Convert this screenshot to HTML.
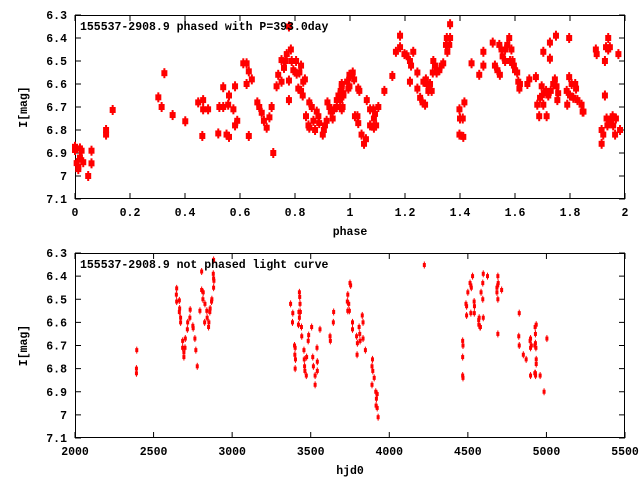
<!DOCTYPE html>
<html><head><meta charset="utf-8"><style>
body{margin:0;background:#fff}
svg text{font-family:"Liberation Mono",monospace;font-size:11.5px;font-weight:bold;fill:#000}
</style></head><body>
<svg id="c" width="640" height="480" xmlns="http://www.w3.org/2000/svg"></svg>
<script>
// Top chart: phased
const phasePhase=[0.0,0.0,0.006,0.012,0.012,0.018,0.018,0.024,0.03,0.048,0.06,0.06,0.113,0.113,0.137,0.303,0.315,0.325,0.355,0.401,0.448,0.463,0.466,0.466,0.484,0.521,0.525,0.539,0.539,0.551,0.557,0.56,0.56,0.576,0.582,0.59,0.582,0.612,0.624,0.624,0.632,0.632,0.643,0.663,0.67,0.679,0.687,0.697,0.707,0.715,0.721,0.733,0.739,0.751,0.751,0.76,0.766,0.77,0.778,0.778,0.778,
0.785,0.788,0.794,0.804,0.806,0.816,0.822,0.812,0.822,0.828,0.830,0.836,0.840,0.849,0.852,0.852,0.861,0.867,0.873,0.879,0.885,0.888,0.901,0.905,0.909,0.915,0.918,0.925,0.930,0.937,0.942,0.952,0.952,0.958,0.964,0.966,0.970,0.973,0.976,0.990,0.998,0.998,
0.970,0.970,0.976,0.970,0.990,0.994,1.0,1.010,1.015,1.030,1.034,1.018,1.027,1.030,1.042,1.051,1.058,1.061,1.073,1.073,1.085,1.087,1.091,1.087,1.095,1.103,1.125,1.154,1.167,1.182,1.182,1.198,1.206,1.218,1.222,1.218,1.230,1.245,1.245,1.255,1.264,1.273,1.267,1.276,1.279,1.285,1.291,1.297,1.301,1.303,1.309,1.315,1.325,1.333,1.339,1.349,1.352,1.354,1.361,1.364,1.364,1.398,1.398,1.400,1.410,1.412,1.416,1.442,1.470,1.485,1.485,1.519,1.527,1.536,1.545,1.543,1.551,1.555,1.564,1.564,1.572,1.579,1.582,1.587,1.591,1.596,1.600,1.608,1.612,1.616,1.618,1.645,1.652,1.676,1.681,1.688,1.691,1.697,1.703,1.705,1.703,1.713,1.715,1.721,1.727,1.727,1.730,1.739,1.745,1.749,1.751,1.754,1.757,1.788,1.790,1.797,1.797,1.800,1.806,1.812,1.819,1.822,1.827,1.842,1.846,1.849,1.894,1.897,1.915,1.915,1.921,1.927,1.927,1.931,1.939,1.939,1.945,1.933,1.936,1.945,1.955,1.957,1.964,1.967,1.976,1.982];
const phaseMag=[6.873,6.887,6.944,6.96,6.97,6.92,6.88,6.89,6.94,7.0,6.89,6.945,6.8,6.82,6.713,6.658,6.7,6.553,6.735,6.762,6.68,6.826,6.67,6.71,6.71,6.815,6.7,6.7,6.614,6.82,6.69,6.83,6.65,6.71,6.61,6.76,6.78,6.51,6.51,6.6,6.545,6.826,6.58,6.68,6.7,6.725,6.76,6.79,6.745,6.7,6.9,6.61,6.56,6.59,6.496,6.53,6.5,6.47,6.35,6.585,6.67,
6.45,6.5,6.54,6.5,6.555,6.55,6.52,6.62,6.63,6.65,6.59,6.58,6.74,6.78,6.79,6.68,6.7,6.76,6.8,6.72,6.74,6.77,6.82,6.80,6.78,6.76,6.68,6.7,6.72,6.75,6.71,6.7,6.67,6.65,6.67,6.63,6.6,6.7,6.64,6.59,6.56,6.61,
6.61,6.65,6.65,6.71,6.59,6.62,6.565,6.55,6.58,6.62,6.63,6.74,6.74,6.77,6.82,6.86,6.84,6.67,6.71,6.78,6.71,6.75,6.73,6.79,6.78,6.70,6.63,6.565,6.46,6.39,6.44,6.47,6.475,6.50,6.52,6.59,6.46,6.55,6.62,6.66,6.68,6.69,6.59,6.58,6.6,6.63,6.6,6.63,6.55,6.5,6.52,6.55,6.54,6.52,6.51,6.43,6.4,6.46,6.43,6.4,6.34,6.71,6.82,6.75,6.75,6.83,6.68,6.51,6.56,6.46,6.52,6.42,6.52,6.54,6.56,6.43,6.45,6.48,6.45,6.50,6.43,6.40,6.50,6.45,6.5,6.52,6.54,6.55,6.59,6.62,6.6,6.6,6.58,6.57,6.69,6.74,6.66,6.61,6.69,6.64,6.46,6.63,6.74,6.65,6.42,6.49,6.63,6.6,6.58,6.39,6.61,6.67,6.64,6.63,6.69,6.40,6.57,6.65,6.6,6.66,6.6,6.62,6.67,6.69,6.72,6.72,6.45,6.47,6.86,6.8,6.82,6.65,6.5,6.44,6.4,6.45,6.44,6.75,6.78,6.76,6.74,6.78,6.82,6.75,6.47,6.8];
// Bottom chart: unphased
const lcHjd=[2393,2391,2391,2647,2645,2647,2664,2666,2664,2672,2672,2685,2685,2693,2693,2700,2702,2715,2717,2731,2733,2750,2752,2763,2769,2778,2795,2806,2806,2816,2814,2827,2825,2839,2841,2850,2852,2858,2860,2869,2871,2880,2882,2882,2884,2882,3372,3386,3384,3397,3401,3399,3403,3401,3428,3430,3432,3425,3434,3428,3422,3441,3443,3457,3459,3461,3463,3472,3474,3484,3487,3506,3513,3517,3528,3528,3540,3542,3542,3559,3623,3625,3644,3646,3733,3736,3750,3754,3736,3742,3746,3766,3766,3792,3797,3795,3808,3812,3814,3828,3833,3833,3848,3893,3890,3895,3904,3890,3914,3918,3916,3923,3923,3929,4223,4467,4469,4467,4467,4469,4488,4492,4492,4500,4514,4519,4522,4530,4519,4540,4542,4541,4569,4572,4570,4577,4580,4584,4595,4598,4595,4598,4625,4685,4685,4690,4693,4691,4691,4691,4715,4827,4824,4827,4853,4871,4899,4896,4899,4904,4926,4930,4933,4928,4935,4930,4935,4935,4899,4926,4930,4931,4960,4985,5003];
const lcMag=[6.72,6.80,6.82,6.453,6.48,6.51,6.505,6.54,6.555,6.58,6.60,6.68,6.71,6.73,6.75,6.71,6.67,6.63,6.60,6.58,6.545,6.615,6.625,6.67,6.72,6.79,6.55,6.38,6.46,6.47,6.50,6.52,6.60,6.55,6.58,6.62,6.60,6.555,6.54,6.51,6.50,6.39,6.41,6.33,6.42,6.45,6.52,6.56,6.60,6.70,6.71,6.74,6.76,6.80,6.47,6.49,6.52,6.555,6.555,6.58,6.61,6.62,6.66,6.72,6.76,6.79,6.81,6.83,6.75,6.68,6.655,6.62,6.75,6.79,6.83,6.87,6.71,6.77,6.81,6.63,6.66,6.68,6.60,6.555,6.51,6.48,6.43,6.44,6.55,6.52,6.55,6.60,6.63,6.66,6.69,6.74,6.62,6.65,6.68,6.57,6.60,6.67,6.72,6.76,6.79,6.81,6.84,6.87,6.90,6.93,6.96,6.91,6.97,7.01,6.352,6.68,6.70,6.75,6.83,6.84,6.52,6.53,6.57,6.47,6.43,6.44,6.45,6.40,6.56,6.51,6.53,6.56,6.59,6.58,6.61,6.62,6.62,6.47,6.43,6.39,6.50,6.58,6.40,6.45,6.47,6.44,6.43,6.40,6.50,6.65,6.46,6.56,6.66,6.70,6.74,6.76,6.67,6.68,6.71,6.70,6.70,6.69,6.71,6.62,6.61,6.65,6.76,6.78,6.83,6.82,6.82,6.83,6.83,6.90,6.67];
const topXTicks=[0,0.2,0.4,0.6,0.8,1,1.2,1.4,1.6,1.8,2];
const botXTicks=[2000,2500,3000,3500,4000,4500,5000,5500];
const yTicks=[6.3,6.4,6.5,6.6,6.7,6.8,6.9,7,7.1];

const NS='http://www.w3.org/2000/svg';
const svg=document.getElementById('c');
function mk(tag,attrs,parent){const e=document.createElementNS(NS,tag);for(const k in attrs)e.setAttribute(k,attrs[k]);(parent||svg).appendChild(e);return e;}

function panel(cfg){
  const g=mk('g',{});
  
  
  const L=75,R=625,T=cfg.top,B=cfg.bottom;
  const sx=v=>L+(v-cfg.xmin)/(cfg.xmax-cfg.xmin)*(R-L);
  const sy=v=>T+(v-6.3)/(7.1-6.3)*(B-T);
  cfg.xticks.forEach(t=>{
    const x=sx(t);
    const l1=mk('line',{x1:x,x2:x,y1:B,y2:B-6,stroke:'#000'},g);
    
    
    mk('line',{x1:x,x2:x,y1:T,y2:T+6,stroke:'#000'},g);
    const tx=mk('text',{x:x,y:B+17,'text-anchor':'middle'},g);
    
    
    tx.textContent=cfg.fmt(t);
  });
  yTicks.forEach(t=>{
    const y=sy(t);
    mk('line',{x1:L,x2:L+6,y1:y,y2:y,stroke:'#000'},g);
    mk('line',{x1:R,x2:R-6,y1:y,y2:y,stroke:'#000'},g);
    const tx=mk('text',{x:67,y:y+4,'text-anchor':'end'},g);
    
    
    tx.textContent=String(t);
  });
  const fr=mk('rect',{x:L+0.5,y:T+0.5,width:R-L-1,height:B-T-1,fill:'none',stroke:'#000'},g);
  
  
  const yt=mk('text',{x:0,y:0,transform:`translate(27,${(T+B)/2}) rotate(-90)`,'text-anchor':'middle'},g);
  
  
  yt.textContent='I[mag]';
  const xt=mk('text',{x:350,y:B+36,'text-anchor':'middle'},g);
  
  
  xt.textContent=cfg.xtitle;
  const pts=mk('g',{fill:'#ff0000',stroke:'none'},g);
  
  
  cfg.xs.forEach((v,i)=>{
    const x=sx(v),y=sy(cfg.ys[i]);
    const p=mk('g',{},pts);
    
    
    mk('rect',{x:x-cfg.w/2,y:y-cfg.h/2,width:cfg.w,height:cfg.h},p);
    mk('rect',{x:x-cfg.bw/2,y:y-cfg.bh/2,width:cfg.bw,height:cfg.bh},p);
  });
  const tt=mk('text',{x:80,y:T+15},g);
  
  
  tt.textContent=cfg.title;
}
panel({name:'phased-chart',top:15,bottom:199,xmin:0,xmax:2,xticks:topXTicks,fmt:t=>String(t),xtitle:'phase',xs:phasePhase,ys:phaseMag,w:6,h:6,bw:2,bh:10,title:'155537-2908.9 phased with P=393.0day'});
panel({name:'light-curve-chart',top:253,bottom:438,xmin:2000,xmax:5500,xticks:botXTicks,fmt:t=>String(t),xtitle:'hjd0',xs:lcHjd,ys:lcMag,w:3,h:4,bw:1,bh:7,title:'155537-2908.9 not phased light curve'});
</script>
</body></html>
